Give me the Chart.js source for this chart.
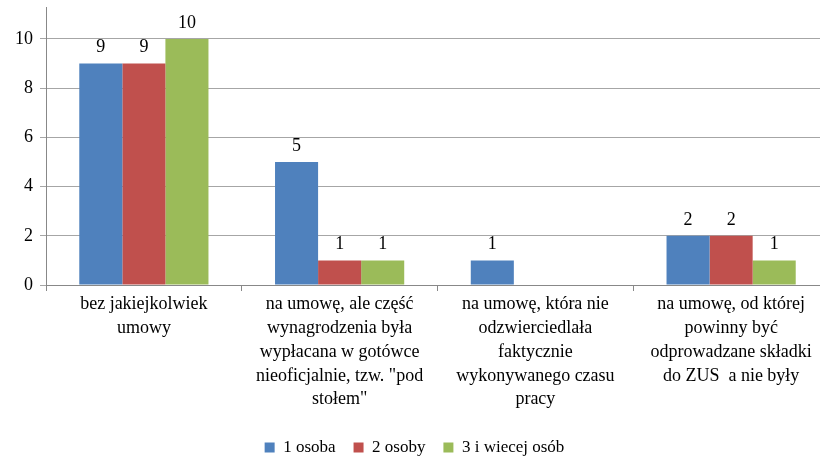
<!DOCTYPE html>
<html>
<head>
<meta charset="utf-8">
<script src="https://cdn.jsdelivr.net/npm/chart.js@4"></script>
<style>
  html, body { margin: 0; padding: 0; background: #fff; overflow: hidden; }
  canvas { display: block; }
</style>
</head>
<body>
<canvas id="chart" width="830" height="456"></canvas>
<script>
const categories = [
    ['bez jakiejkolwiek', 'umowy'],
    ['na umowę, ale część', 'wynagrodzenia była', 'wypłacana w gotówce', 'nieoficjalnie, tzw. "pod', 'stołem"'],
    ['na umowę, która nie', 'odzwierciedlała', 'faktycznie', 'wykonywanego czasu', 'pracy'],
    ['na umowę, od której', 'powinny być', 'odprowadzane składki', 'do ZUS  a nie były']
];
const seriesNames = ['1 osoba', '2 osoby', '3 i wiecej osób'];
const oneValues = [9, 5, 1, 2];
const twoValues = [9, 1, null, 2];
const threeValues = [10, 1, null, 1];
const yTicks = [0, 2, 4, 6, 8, 10];

const colors = ['#4F81BD', '#C0504D', '#9BBB59'];
const fontName = '"Liberation Serif"';

// value labels above the bars
const valueLabels = {
    id: 'valueLabels',
    afterDatasetsDraw(chart) {
        const ctx = chart.ctx;
        ctx.save();
        ctx.font = '18px ' + fontName;
        ctx.fillStyle = '#000';
        ctx.textAlign = 'center';
        ctx.textBaseline = 'bottom';
        chart.data.datasets.forEach((ds, i) => {
            const meta = chart.getDatasetMeta(i);
            meta.data.forEach((bar, j) => {
                const v = ds.data[j];
                if (v === null) return;
                ctx.fillText(String(v), bar.x, bar.y - 7);
            });
        });
        ctx.restore();
    }
};

Chart.defaults.font.family = fontName;

const ctx = document.getElementById('chart').getContext('2d');
new Chart(ctx, {
    type: 'bar',
    data: {
        labels: categories,
        datasets: [
            { label: seriesNames[0], data: oneValues, backgroundColor: colors[0] },
            { label: seriesNames[1], data: twoValues, backgroundColor: colors[1] },
            { label: seriesNames[2], data: threeValues, backgroundColor: colors[2] }
        ]
    },
    options: {
        responsive: false,
        animation: false,
        layout: { padding: { top: 7, right: 1, bottom: -10, left: 0 } },
        datasets: {
            bar: { barPercentage: 1, categoryPercentage: 0.66 }
        },
        plugins: {
            legend: {
                position: 'bottom',
                labels: {
                    boxWidth: 10,
                    boxHeight: 10,
                    padding: 18,
                    color: '#000',
                    font: { family: fontName, size: 17 }
                }
            },
            tooltip: { enabled: false }
        },
        scales: {
            x: {
                grid: {
                    display: true,
                    drawOnChartArea: false,
                    offset: true,
                    tickLength: 6,
                    color: '#888'
                },
                border: { color: '#888' },
                ticks: {
                    color: '#000',
                    maxRotation: 0,
                    autoSkip: false,
                    padding: 1,
                    font: { family: fontName, size: 18, lineHeight: 1.33 }
                },
                afterFit(scale) { scale.height = 136; }
            },
            y: {
                min: 0,
                max: 11.3,
                afterBuildTicks(scale) {
                    scale.ticks = yTicks.map(v => ({ value: v }));
                },
                grid: { color: '#A6A6A6', tickLength: 6 },
                border: { color: '#888' },
                ticks: {
                    color: '#000',
                    padding: 7,
                    font: { family: fontName, size: 18 }
                },
                afterFit(scale) {
                    scale.width = 46;
                    scale.paddingTop = 0;
                    scale.paddingBottom = 0;
                }
            }
        }
    },
    plugins: [valueLabels]
});
</script>
</body>
</html>
